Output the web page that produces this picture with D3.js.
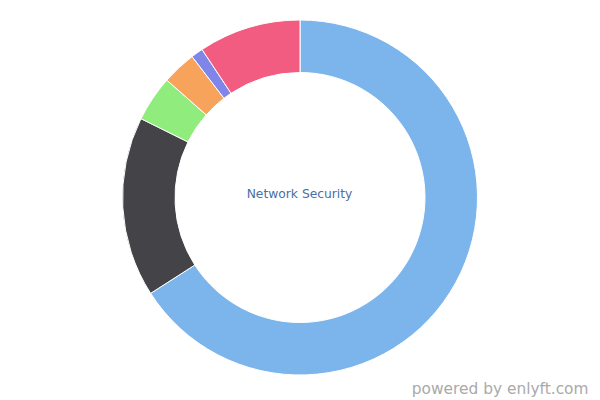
<!DOCTYPE html>
<html><head><meta charset="utf-8">
<script src="https://cdn.jsdelivr.net/npm/d3@7"></script>
<style>body{margin:0;background:#fff}svg{display:block}</style>
</head><body>
<svg id="c" width="600" height="400"></svg>
<script>
const categories = ["A","B","C","D","E","F"];
const values = [65.9, 16.4, 4.17, 3.1, 1.1, 9.3];
const colors = ["#7cb5ec","#434348","#90ed7d","#f7a35c","#8085e9","#f15c80"];
const centerLabel = "Network Security";
const credit = "powered by enlyft.com";

const svg = d3.select("#c");
const cx = 300, cy = 197.5, rOuter = 177.5, rInner = 125;
const pie = d3.pie().sort(null).value(d => d.v);
const arc = d3.arc().innerRadius(rInner).outerRadius(rOuter);
const data = categories.map((c,i)=>({c, v: values[i], col: colors[i]}));
const g = svg.append("g").attr("transform", `translate(${cx},${cy})`);
g.selectAll("path").data(pie(data)).enter().append("path")
  .attr("d", arc).attr("fill", d => d.data.col)
  .attr("stroke", "#ffffff").attr("stroke-width", 1).attr("stroke-linejoin","round");
svg.append("text").attr("x", 299.5).attr("y", 198.3).attr("text-anchor","middle")
  .attr("font-family","DejaVu Sans, sans-serif").attr("font-size", 12.3)
  .attr("fill","#4a6fa5").text(centerLabel);
svg.append("text").attr("x", 588.5).attr("y", 393.5).attr("text-anchor","end")
  .attr("font-family","DejaVu Sans, sans-serif").attr("font-size", 15.4)
  .attr("fill","#aaaaaa").text(credit);
</script>
</body></html>
